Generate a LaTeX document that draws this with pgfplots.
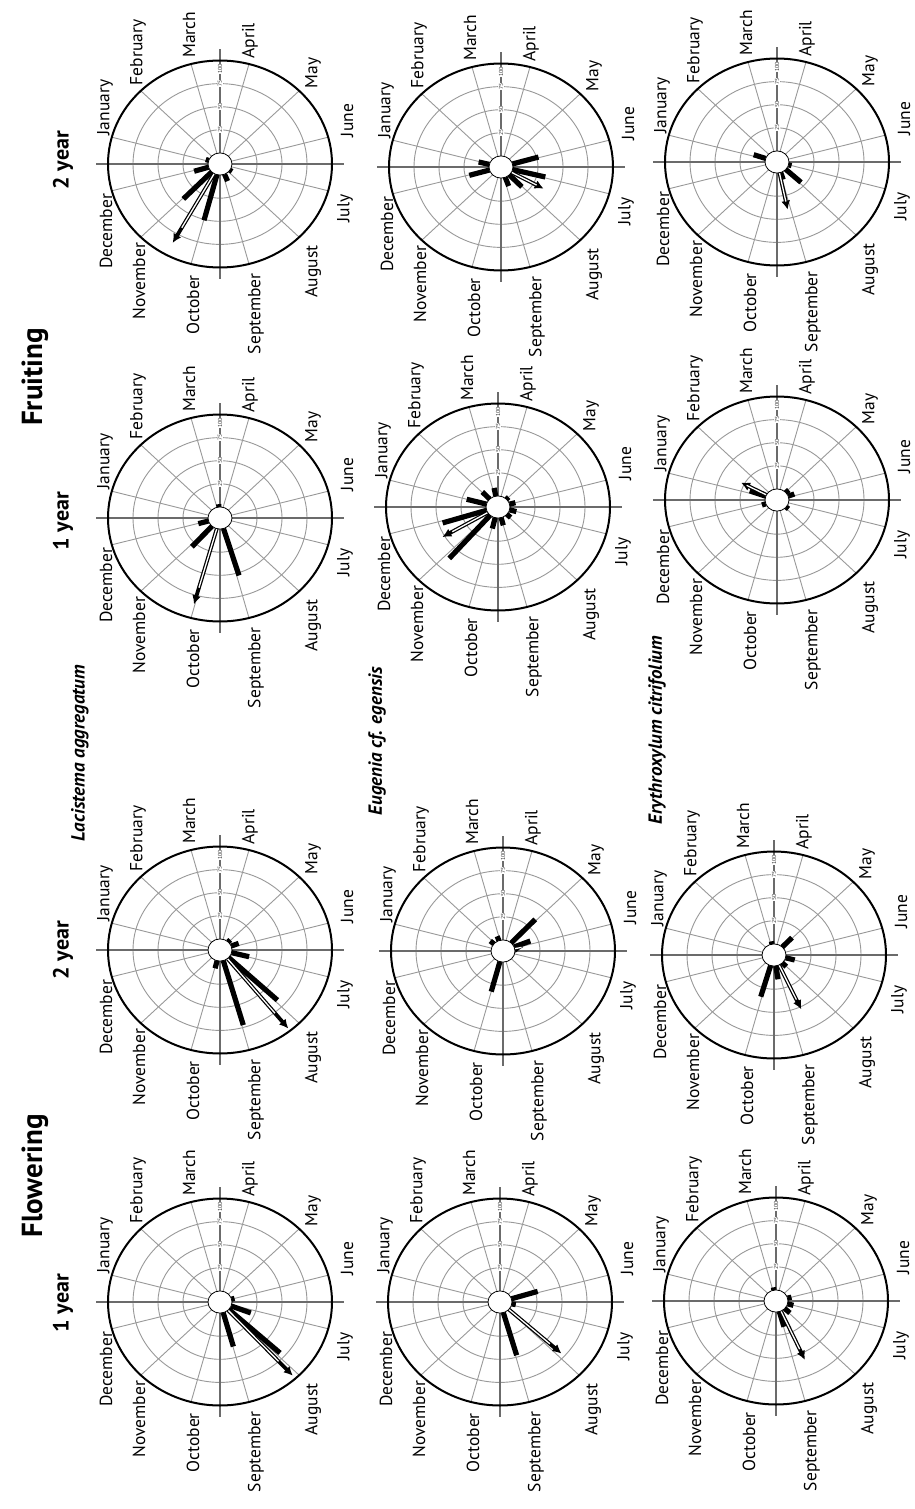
\documentclass[border=0pt]{standalone}
\usepackage{fontspec}
\setmainfont{PT Sans}
\usepackage{pgfplots}
\usepackage{pgfplotstable}
\pgfplotsset{compat=1.18}
\usetikzlibrary{arrows.meta}

\definecolor{ringgray}{gray}{0.6}
\definecolor{axgray}{gray}{0.42}

% bars: angle (deg, as drawn) and value (0-100)
\pgfplotstableread{
ang val
15 3
-21 21
-42.6 69.5
-74.5 38
}\tabA
\pgfplotstableread{
ang val
47 3
21 8
-14 18
-43.4 67
-74 72.5
-104 8.4
}\tabB
\pgfplotstableread{
ang val
95 3
195.7 10.5
227.9 30
-73 53
}\tabC
\pgfplotstableread{
ang val
161 3
196.9 15
225.9 40.7
255.3 51
-67.7 8
-34 2.5
}\tabD
\pgfplotstableread{
ang val
17 27.4
-10 4
-73.9 48
}\tabE
\pgfplotstableread{
ang val
46.7 35
21.6 17.4
110 5
139.6 4.7
255 33.5
}\tabF
\pgfplotstableread{
ang val
100.8 9
134 10.6
165 20.4
197.3 46
228.8 62
256.3 12
-75 8.5
-42 5
-15 7
15 6
45 3
}\tabG
\pgfplotstableread{
ang val
16 27
-13.7 33.6
-45.8 18
-69.5 10
195.9 21
166.4 11
}\tabH
\pgfplotstableread{
ang val
100 3
15 4
-15 6
-43 7
-74 17
}\tabI
\pgfplotstableread{
ang val
100 3
46.2 14
-14.6 9.4
-45.7 5.6
-81.4 14.6
253.6 35
}\tabJ
\pgfplotstableread{
ang val
160 17
200 4
20.6 6.5
42.7 4
-40 3
}\tabK
\pgfplotstableread{
ang val
161.3 12.6
-42.5 20.6
-72 8
-15 3
}\tabL

\newcommand{\mfont}{\fontsize{17.5}{17.5}\selectfont}
\pgfplotsset{
  qv/.style={quiver={u={\thisrow{val}*cos(\thisrow{ang})},v={\thisrow{val}*sin(\thisrow{ang})}}},
  qvs/.style={quiver={u={\thisrow{val}*cos(\thisrow{ang})},v={\thisrow{val}*sin(\thisrow{ang})},scale arrows=0.78}},
}

\newcommand{\panel}[5]{%
\begin{scope}[shift={(#1pt,-#2pt)},yscale=0.924]
  \foreach \myr in {37,62,87} \draw[ringgray,line width=0.9pt] (0,0) circle (\myr pt);
  \foreach \myt in {15,45,...,345} \draw[ringgray,line width=0.9pt] (\myt:12pt) -- (\myt:112pt);
  \draw[axgray,line width=1.6pt] (-124pt,0) -- (124pt,0);
  \draw[axgray,line width=1.6pt] (0,-124pt) -- (0,124pt);
  \draw[black,line width=2pt] (0,0) circle (112pt);
  \foreach \rad/\lab in {37/25,62/50,87/75,103/100}
    \node[rotate=90,fill=white,inner sep=0.5pt,text=black!80,font=\fontsize{5.8}{5.8}\selectfont] at (0,\rad pt) {\lab};
  \node[rotate=90,anchor=west,inner sep=0pt,font=\mfont] at (-115pt,31pt) {January};
  \node[rotate=90,anchor=west,inner sep=0pt,font=\mfont] at (-82pt,85pt) {February};
  \node[rotate=90,anchor=west,inner sep=0pt,font=\mfont] at (-31pt,115pt) {March};
  \node[rotate=90,anchor=west,inner sep=0pt,font=\mfont] at (30pt,114pt) {April};
  \node[rotate=90,anchor=west,inner sep=0pt,font=\mfont] at (93pt,82pt) {May};
  \node[rotate=90,anchor=west,inner sep=0pt,font=\mfont] at (127pt,29pt) {June};
  \node[rotate=90,anchor=east,inner sep=0pt,font=\mfont] at (125pt,-33pt) {July};
  \node[rotate=90,anchor=east,inner sep=0pt,font=\mfont] at (93pt,-88pt) {August};
  \node[rotate=90,anchor=east,inner sep=0pt,font=\mfont] at (36pt,-118pt) {September};
  \node[rotate=90,anchor=east,inner sep=0pt,font=\mfont] at (-27pt,-120pt) {October};
  \node[rotate=90,anchor=east,inner sep=0pt,font=\mfont] at (-81pt,-85pt) {November};
  \node[rotate=90,anchor=east,inner sep=0pt,font=\mfont] at (-114pt,-32pt) {December};
\end{scope}
\begin{axis}[at={(#1pt,-#2pt)},anchor=center,hide axis,x=1pt,y=0.924pt,
  xmin=-130,xmax=130,ymin=-130,ymax=130,clip=false]
  \addplot[black,line width=5.2pt,-,qv]
    table[x expr={12*cos(\thisrow{ang})},y expr={12*sin(\thisrow{ang})}]{#3};
  \addplot[black,line width=3.8pt,-{Latex[length=9pt,width=9pt]},qv]
    table[row sep=\\,x expr={12*cos(\thisrow{ang})},y expr={12*sin(\thisrow{ang})}]{ang val\\ #4 #5\\};
  \addplot[white,line width=1.3pt,-,qvs]
    table[row sep=\\,x expr={12*cos(\thisrow{ang})},y expr={12*sin(\thisrow{ang})}]{ang val\\ #4 #5\\};
\end{axis}
\begin{scope}[shift={(#1pt,-#2pt)},yscale=0.924]
  \draw[black,line width=0.8pt,fill=white] (0,0) circle (12pt);
\end{scope}
}

\begin{document}
\begin{tikzpicture}
\useasboundingbox (0,0) rectangle (914pt,-1509pt);
\fill[white] (0,0) rectangle (914pt,-1509pt);

\panel{220}{1302}{\tabA}{-47.6}{96}
\panel{220}{950}{\tabB}{-51.2}{97}
\panel{220}{518}{\tabC}{254.4}{85}
\panel{220}{164}{\tabD}{241}{85.7}
\panel{500}{1302}{\tabE}{-42.2}{71}
\panel{503}{951}{\tabF}{12}{9}
\panel{498}{507}{\tabG}{210.3}{52.5}
\panel{501}{167}{\tabH}{-28.8}{36.7}
\panel{776}{1301}{\tabI}{-65.6}{58}
\panel{774}{955}{\tabJ}{-65.1}{52.8}
\panel{777}{500}{\tabK}{152.4}{28.6}
\panel{777}{162}{\tabL}{-78.3}{40.7}

\node[rotate=90,font=\bfseries\fontsize{29}{29}\selectfont] at (35pt,-1176pt) {Flowering};
\node[rotate=90,font=\bfseries\fontsize{29}{29}\selectfont] at (35pt,-377pt) {Fruiting};
\node[rotate=90,font=\bfseries\fontsize{22}{22}\selectfont] at (63pt,-1303pt) {1 year};
\node[rotate=90,font=\bfseries\fontsize{22}{22}\selectfont] at (63pt,-950pt) {2 year};
\node[rotate=90,font=\bfseries\fontsize{22}{22}\selectfont] at (63pt,-521pt) {1 year};
\node[rotate=90,font=\bfseries\fontsize{22}{22}\selectfont] at (63pt,-160pt) {2 year};
\node[rotate=90,font=\bfseries\itshape\fontsize{19}{19}\selectfont] at (80pt,-753pt) {Lacistema aggregatum};
\node[rotate=90,font=\bfseries\itshape\fontsize{19}{19}\selectfont] at (377pt,-741pt) {Eugenia cf. egensis};
\node[rotate=90,font=\bfseries\itshape\fontsize{19}{19}\selectfont] at (657pt,-730pt) {Erythroxylum citrifolium};
\end{tikzpicture}
\end{document}
